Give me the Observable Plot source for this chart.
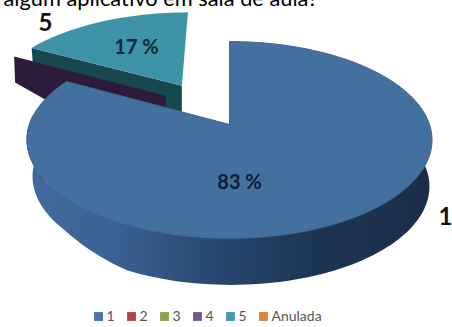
<!DOCTYPE html>
<html>
<head>
<meta charset="utf-8">
<script src="https://cdn.jsdelivr.net/npm/d3@7"></script>
<script src="https://cdn.jsdelivr.net/npm/@observablehq/plot@0.6"></script>
<style>html,body{margin:0;padding:0;background:#fff}svg{display:block}</style>
</head>
<body>
<script>
// Survey answers: share of responses per option, in percent
const categories = ["1", "2", "3", "4", "5", "Anulada"];
const shares = [83, 0, 0, 0, 17, 0];
const legendColors = ["#4572a7", "#aa4643", "#89a54e", "#71588f", "#4198af", "#db843d"];
const question = "algum aplicativo em sala de aula?";

// Pie surface seen in perspective: u is right, v is away from the viewer, radius 1
const persp = 0.157;
function project(u, v, drop = 0, narrow = 1, shift = 0) {
  const w = 1 + persp * v;
  return {x: 229 + shift + 200 * narrow * u / w, y: 124 - 96 * v / w + drop};
}
const TAU = Math.PI * 2;
const rim = (t, ox = 0, oy = 0) => [ox + Math.sin(t * TAU), oy + Math.cos(t * TAU)];

// Cumulative start/end of each answer as fractions of the turn
const total = d3.sum(shares);
let running = 0;
const slices = categories.map((name, i) => {
  const start = running / total;
  running += shares[i];
  return {name, share: shares[i], start, end: running / total, color: legendColors[i]};
});
const big = slices[0], fifth = slices[4], fourth = slices[3];

// Sector outline, with an optional offset for pulled-out slices
function sector(s, ox = 0, oy = 0) {
  const n = Math.max(2, Math.ceil((s.end - s.start) * 180));
  const arc = d3.range(n + 1).map(i => rim(s.start + (s.end - s.start) * i / n, ox, oy));
  return [[ox, oy], ...arc, [ox, oy]].map(([u, v]) => project(u, v));
}
const pull = (turn, e) => [e * Math.sin(turn * TAU), e * Math.cos(turn * TAU)];

// Side band of the large slice, through the front of the pie; shallower on the left
const band = d3.range(0.235, 0.766, 0.005).map(t => {
  const [u, v] = rim(t);
  const depth = 47 - 10 * Math.max(0, Math.min(1, (-u - 0.46) / 0.3));
  const a = project(u, v), b = project(u, v, depth, 0.98, 2);
  return {x1: a.x, y1: a.y, x2: b.x, y2: b.y};
});

// Cut face of a pulled-out slice: apex to rim edge, with separate drop at each end
function cutFace(turn, ox, oy, dropApex, dropRim) {
  const [ru, rv] = rim(turn, ox, oy);
  const a = project(ox, oy), r = project(ru, rv);
  return [a, r, {x: r.x + 1, y: r.y + dropRim}, {x: a.x, y: a.y + dropApex}];
}

const [o5u, o5v] = pull((fifth.start + fifth.end) / 2, 0.5);
const [o4u, o4v] = pull(0.87, 0.46);

const sideGradient = () => {
  const g = d3.create("svg:defs");
  const lg = g.append("linearGradient").attr("id", "side")
    .attr("gradientUnits", "userSpaceOnUse").attr("x1", 30).attr("x2", 430).attr("y1", 0).attr("y2", 0);
  [[0, "#41699c"], [0.2, "#3c6294"], [0.42, "#2a4b75"], [0.7, "#1d3554"], [1, "#1b2e48"]]
    .forEach(([o, c]) => lg.append("stop").attr("offset", o).attr("stop-color", c));
  return g.node();
};

const legend = slices.map((s, i) => ({...s, pos: i}));
const swatchX = d => 98 + 33 * d.pos;

const chart = Plot.plot({
  width: 452,
  height: 327,
  margin: 0,
  style: {background: "#fff", fontFamily: "Lato, sans-serif"},
  x: {domain: [0, 452], range: [0, 452], axis: null},
  y: {domain: [0, 327], range: [0, 327], axis: null},
  marks: [
    sideGradient,
    // Answer 5, pulled out of the pie: cut face first
    Plot.line(cutFace(fifth.start, o5u, o5v, 30, 14), {x: "x", y: "y", fill: "#18484f", stroke: "none"}),
    // Zero-width answer 4 only shows its cut face, in front of answer 5's
    Plot.line(cutFace(fourth.end, o4u, o4v, 72, 26), {x: "x", y: "y", fill: "#2c1b3a", stroke: "none"}),
    Plot.line(sector(fifth, o5u, o5v), {x: "x", y: "y", fill: "#3f93a6", stroke: "none"}),
    // Answer 1: side band, then the top surface
    Plot.area(band, {x1: "x1", y1: "y1", x2: "x2", y2: "y2", fill: "url(#side)"}),
    Plot.line(sector(big), {x: "x", y: "y", fill: "#44709f", stroke: "#3d6794", strokeWidth: 1}),
    // Percent labels and category labels
    Plot.text([big], {x: () => 239, y: () => 182, text: d => `${d.share} %`, fontSize: 20, fontWeight: 700, fill: "#0d1a38"}),
    Plot.text([fifth], {x: () => 136, y: () => 47, text: d => `${d.share} %`, fontSize: 20, fontWeight: 700, fill: "#0d2a3a"}),
    Plot.text([big], {x: () => 445, y: () => 217, text: "name", fontSize: 24, fontWeight: 700, fill: "#111"}),
    Plot.text([fifth], {x: () => 45, y: () => 23, text: "name", fontSize: 24, fontWeight: 700, fill: "#111"}),
    Plot.text([question], {x: () => 3, y: () => -1.5, text: d => d, textAnchor: "start", fontSize: 21.8, fill: "#000"}),
    // Legend row
    Plot.dot(legend, {x: swatchX, y: () => 316, symbol: "square", r: 5, fill: "color", stroke: "none"}),
    Plot.text(legend, {x: d => swatchX(d) + 8, y: () => 316, text: "name", textAnchor: "start", fontSize: 14, fill: "#555", letterSpacing: "1px"})
  ]
});
document.body.appendChild(chart);
</script>
</body>
</html>
